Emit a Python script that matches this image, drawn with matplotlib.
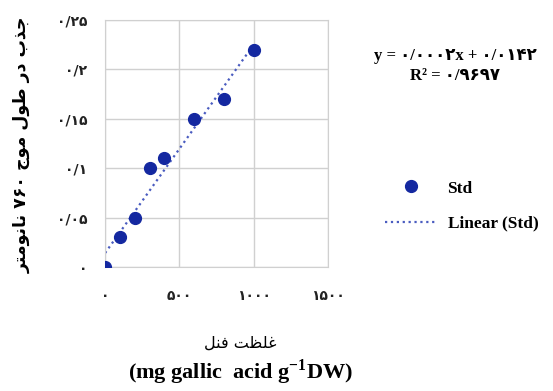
import numpy as np
import matplotlib.pyplot as plt

# Data
concentration = [0, 100, 200, 300, 400, 600, 800, 1000]  # mg gallic acid / g DW
absorbance = [0.0, 0.03, 0.05, 0.10, 0.11, 0.15, 0.17, 0.22]
x_ticks = [0, 500, 1000, 1500]
x_tick_labels = ['۰', '۵۰۰', '۱۰۰۰', '۱۵۰۰']
y_ticks = [0, 0.05, 0.1, 0.15, 0.2, 0.25]
y_tick_labels = ['۰', '۰/۰۵', '۰/۱', '۰/۱۵', '۰/۲', '۰/۲۵']

# simple Persian shaping (matplotlib draws no joined letters on its own)
FORMS = {
    'ا': ('\uFE8D', '\uFE8E', None, None),
    'ب': ('\uFE8F', '\uFE90', '\uFE91', '\uFE92'),
    'ت': ('\uFE95', '\uFE96', '\uFE97', '\uFE98'),
    'ج': ('\uFE9D', '\uFE9E', '\uFE9F', '\uFEA0'),
    'د': ('\uFEA9', '\uFEAA', None, None),
    'ذ': ('\uFEAB', '\uFEAC', None, None),
    'ر': ('\uFEAD', '\uFEAE', None, None),
    'ط': ('\uFEC1', '\uFEC2', '\uFEC3', '\uFEC4'),
    'ظ': ('\uFEC5', '\uFEC6', '\uFEC7', '\uFEC8'),
    'ع': ('\uFEC9', '\uFECA', '\uFECB', '\uFECC'),
    'غ': ('\uFECD', '\uFECE', '\uFECF', '\uFED0'),
    'ف': ('\uFED1', '\uFED2', '\uFED3', '\uFED4'),
    'ل': ('\uFEDD', '\uFEDE', '\uFEDF', '\uFEE0'),
    'م': ('\uFEE1', '\uFEE2', '\uFEE3', '\uFEE4'),
    'ن': ('\uFEE5', '\uFEE6', '\uFEE7', '\uFEE8'),
    'و': ('\uFEED', '\uFEEE', None, None),
}


def shape_word(word):
    out = []
    for i, ch in enumerate(word):
        if ch not in FORMS:
            out.append(ch)
            continue
        prev = word[i - 1] if i > 0 else None
        nxt = word[i + 1] if i + 1 < len(word) else None
        joins_prev = prev in FORMS and FORMS[prev][2] is not None
        joins_next = nxt in FORMS and FORMS[ch][2] is not None
        iso, fin, ini, med = FORMS[ch]
        if joins_prev and joins_next:
            out.append(med)
        elif joins_prev:
            out.append(fin)
        elif joins_next:
            out.append(ini)
        else:
            out.append(iso)
    return ''.join(out[::-1])


def fa(text):
    words = text.split(' ')
    shaped = [w if all(c in '۰۱۲۳۴۵۶۷۸۹' for c in w) else shape_word(w) for w in words]
    return ' '.join(shaped[::-1])


fig = plt.figure(figsize=(5.53, 3.91), dpi=100)
ax = fig.add_axes([0.19, 0.317, 0.403, 0.632])

ax.plot(concentration, absorbance, 'o', color='#1428a0', markersize=8.5, label='Std', zorder=3)

# linear trendline
slope, intercept = np.polyfit(concentration, absorbance, 1)
xs = np.array([0, max(concentration)])
ax.plot(xs, slope * xs + intercept, linestyle=':', color='#4a5cc0', linewidth=1.6,
        label='Linear (Std)', zorder=2)

ax.set_xlim(0, 1500)
ax.set_ylim(0, 0.25)
ax.set_xticks(x_ticks)
ax.set_xticklabels(x_tick_labels, fontsize=10, fontfamily='DejaVu Sans', fontweight='bold')
ax.set_yticks(y_ticks)
ax.set_yticklabels(y_tick_labels, fontsize=10, fontfamily='DejaVu Sans', fontweight='bold')
ax.tick_params(length=0, colors='#222222')
ax.tick_params(axis='y', pad=13)
ax.tick_params(axis='x', pad=16)
ax.grid(True, color='#d0d0d0', linewidth=1)
for s in ax.spines.values():
    s.set_color('#d0d0d0')

fig.text(0.04, 0.63, fa('جذب در طول موج ۷۶۰ نانومتر'), rotation=90, ha='center', va='center',
         fontsize=12.5, fontweight='bold', fontfamily='DejaVu Sans')
fig.text(0.434, 0.123, fa('غلظت فنل'), ha='center', va='center', fontsize=11.5,
         fontfamily='DejaVu Sans')
fig.text(0.434, 0.048, '(mg gallic  acid g$^{\\mathregular{-1}}$DW)', ha='center', va='center',
         fontsize=16, fontweight='bold', fontfamily='Liberation Serif')

fig.text(0.823, 0.857, 'y = ۰/۰۰۰۲x + ۰/۰۱۴۲', ha='center', va='center', fontsize=12,
         fontweight='bold', fontfamily=['Liberation Serif', 'DejaVu Sans'])
fig.text(0.823, 0.806, 'R² = ۰/۹۶۹۷', ha='center', va='center', fontsize=12,
         fontweight='bold', fontfamily=['Liberation Serif', 'DejaVu Sans'])

leg = fig.legend(loc='center left', bbox_to_anchor=(0.668, 0.473), frameon=False,
                 prop={'family': 'Liberation Serif', 'weight': 'bold', 'size': 12.5},
                 handlelength=3.0, handletextpad=0.6, labelspacing=1.1)

fig.savefig('out.png', dpi=100)
